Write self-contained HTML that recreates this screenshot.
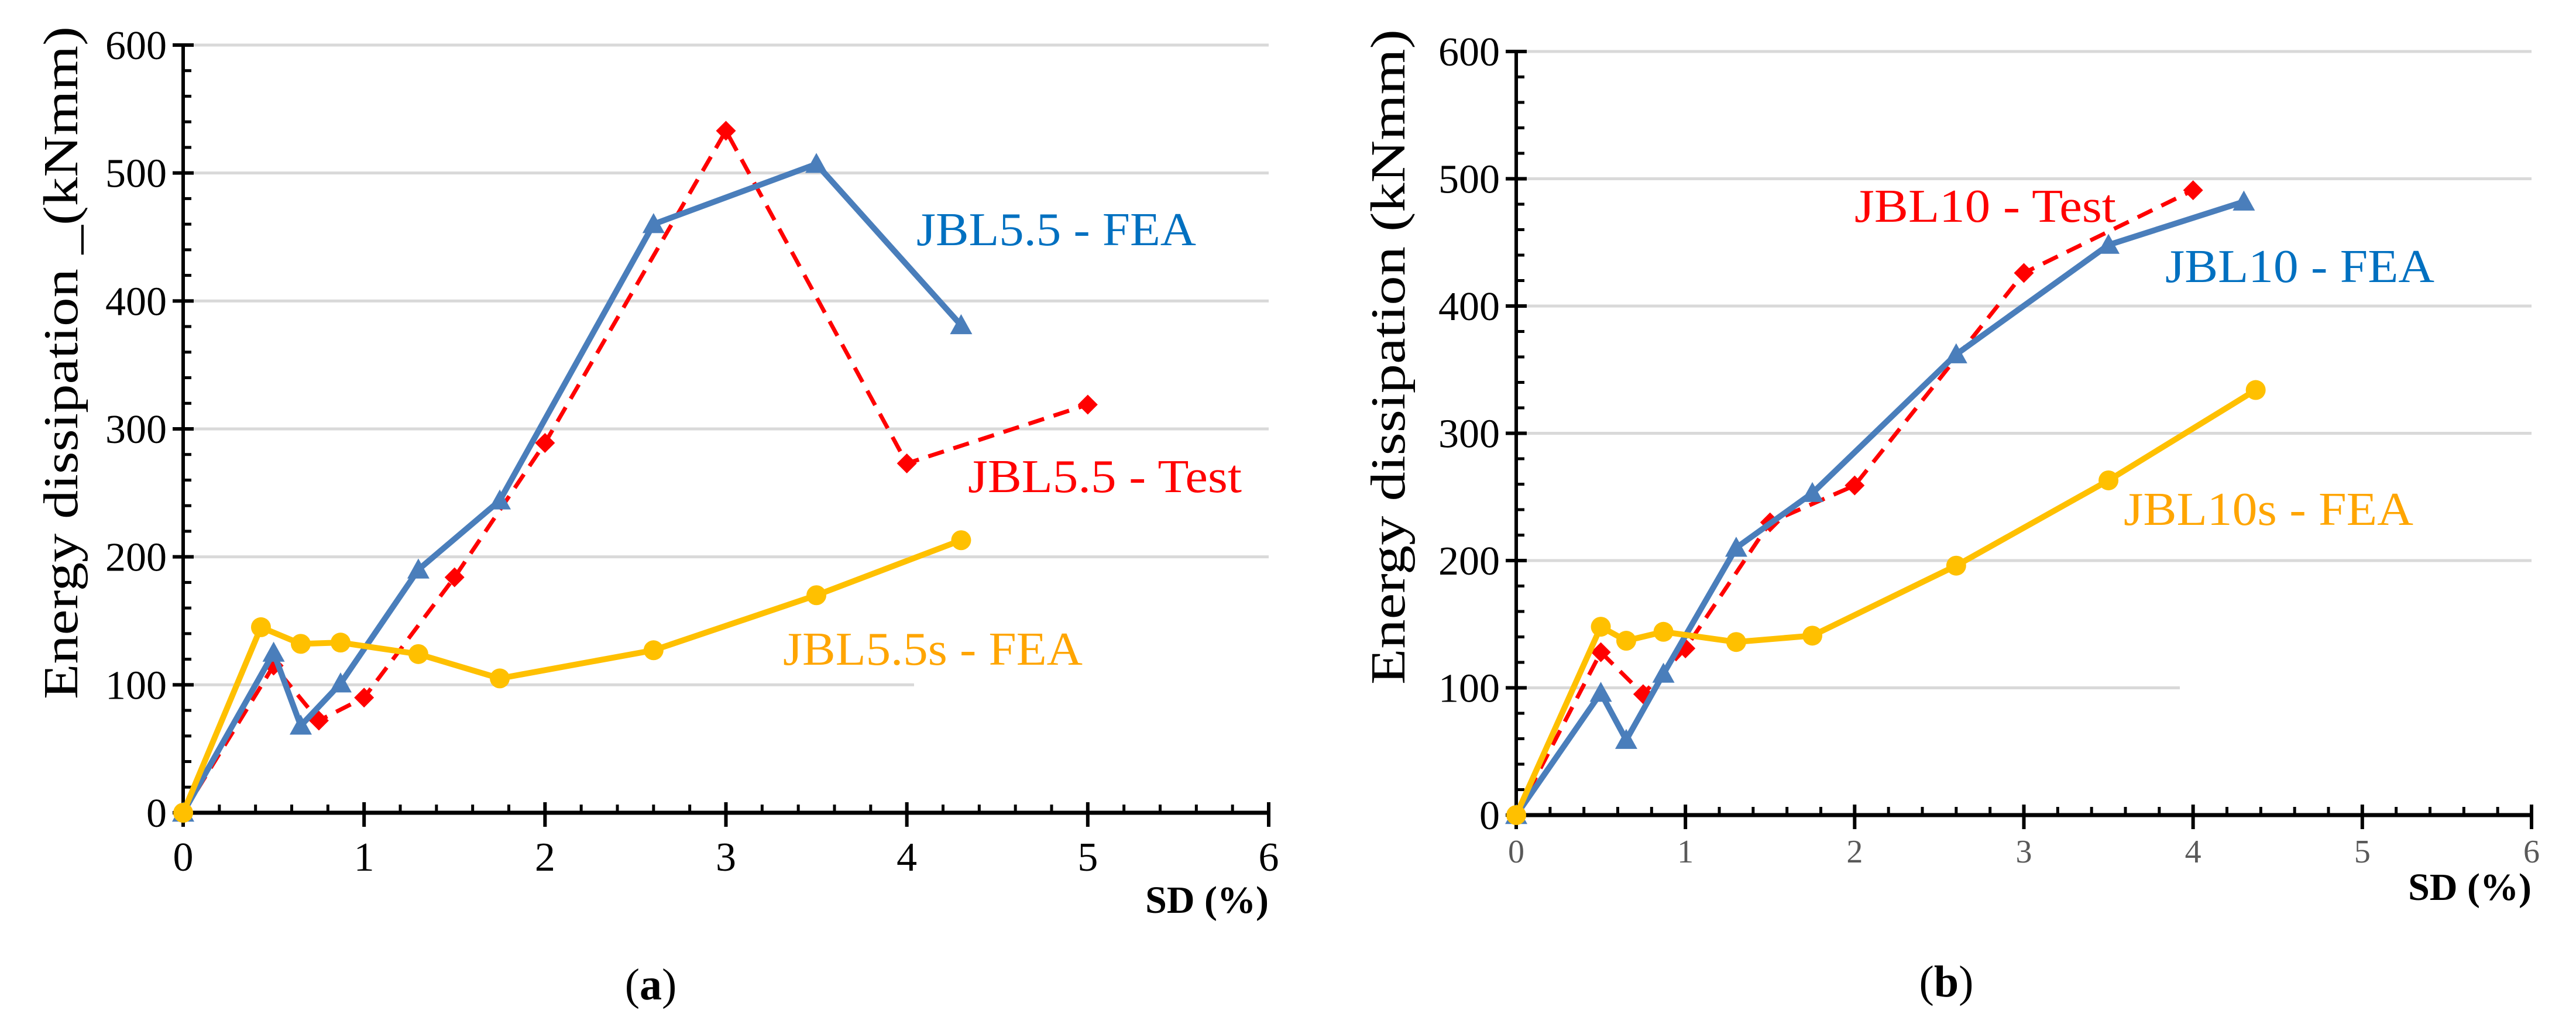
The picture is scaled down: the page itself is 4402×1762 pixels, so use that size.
<!DOCTYPE html>
<html><head><meta charset="utf-8"><style>
html,body{margin:0;padding:0;background:#fff;}
svg{display:block;font-family:"Liberation Serif","Times New Roman",serif;}
</style></head><body>
<svg id="fig" width="4402" height="1762" viewBox="0 0 4402 1762" font-family="Liberation Serif, serif"></svg>
<script>
// ---- Panel (a) data ----
const aFeaX = [0, 0.5, 0.65, 0.87, 1.3, 1.75, 2.6, 3.5, 4.3];
const aFeaY = [0, 125, 68, 101, 190, 244, 460, 507, 381];
const aTestX = [0, 0.5, 0.75, 1, 1.5, 2, 3, 4, 5];
const aTestY = [0, 115, 72, 90, 184, 289, 533, 273, 319];
const aSX = [0, 0.43, 0.65, 0.87, 1.3, 1.75, 2.6, 3.5, 4.3];
const aSY = [0, 145, 132, 133, 124, 105, 127, 170, 213];
// ---- Panel (b) data ----
const bFeaX = [0, 0.5, 0.65, 0.87, 1.3, 1.75, 2.6, 3.5, 4.3];
const bFeaY = [0, 96, 59, 111, 210, 253, 362, 448, 482];
const bTestX = [0, 0.5, 0.75, 1, 1.5, 2, 3, 4];
const bTestY = [0, 128, 95, 131, 230, 259, 426, 491];
const bSX = [0, 0.5, 0.65, 0.87, 1.3, 1.75, 2.6, 3.5, 4.37];
const bSY = [0, 148, 137, 144, 136, 141, 196, 263, 334];
// ---- ticks ----
const xTicks = [0, 1, 2, 3, 4, 5, 6];
const yTicks = [0, 100, 200, 300, 400, 500, 600];

const NS = "http://www.w3.org/2000/svg";
const svg = document.getElementById('fig');
function mk(tag, attrs, parent) {
  const e = document.createElementNS(NS, tag);
  for (const k in attrs) e.setAttribute(k, attrs[k]);
  (parent || svg).appendChild(e);
  return e;
}

function panel(P) {
  const g = mk('g', {});
  
  
  const sx = v => P.x0 + (P.x6 - P.x0) * v / 6;
  const sy = v => P.y0 - (P.y0 - P.y600) * v / 600;
  yTicks.forEach(t => {
    if (t === 0) return;
    const end = (t === 100) ? P.grid100End : P.x6;
    const l = mk('line', {x1: P.x0, x2: end, y1: sy(t), y2: sy(t), stroke: '#d9d9d9', 'stroke-width': 5}, g);
    
    
  });
  for (let v = 20; v < 600; v += 20) {
    if (v % 100 === 0) continue;
    const l = mk('line', {x1: P.x0, x2: P.x0 + 14, y1: sy(v), y2: sy(v), stroke: '#000', 'stroke-width': 5}, g);
    
    
  }
  yTicks.forEach(t => {
    const l = mk('line', {x1: P.x0 - 18, x2: P.x0 + 18, y1: sy(t), y2: sy(t), stroke: '#000', 'stroke-width': 6}, g);
    
    
    const tx = mk('text', {x: P.x0 - 28, y: sy(t) + 24, 'text-anchor': 'end', 'font-size': 70, fill: '#000'}, g);
    tx.textContent = t;
    
    
  });
  for (let i = 1; i < 30; i++) {
    if (i % 5 === 0) continue;
    const v = i * 0.2;
    const l = mk('line', {x1: sx(v), x2: sx(v), y1: P.y0, y2: P.y0 - 14, stroke: '#000', 'stroke-width': 5}, g);
    
    
  }
  xTicks.forEach(t => {
    const l = mk('line', {x1: sx(t), x2: sx(t), y1: P.y0 - 18, y2: P.y0 + 24, stroke: '#000', 'stroke-width': 6}, g);
    
    
    const tx = mk('text', {x: sx(t), y: P.xLabY, 'text-anchor': 'middle', 'font-size': P.xLabSize, fill: P.xLabColor}, g);
    tx.textContent = t;
    
    
  });
  const ya = mk('line', {x1: P.x0, x2: P.x0, y1: P.y600 - 3, y2: P.y0 + 3, stroke: '#000', 'stroke-width': 6}, g);
  
  
  const xa = mk('line', {x1: P.x0 - 3, x2: P.x6 + 3, y1: P.y0, y2: P.y0, stroke: '#000', 'stroke-width': 7}, g);
  
  

  function pts(X, Y) { return X.map((x, i) => sx(x) + ',' + sy(Y[i])).join(' '); }
  const tl = mk('polyline', {points: pts(P.testX, P.testY), fill: 'none', stroke: '#ff0000', 'stroke-width': 7, 'stroke-dasharray': '28,17'}, g);
  
  
  P.testX.forEach((x, i) => {
    const cx = sx(x), cy = sy(P.testY[i]), r = 17;
    const d = mk('polygon', {points: `${cx},${cy - r} ${cx + r},${cy} ${cx},${cy + r} ${cx - r},${cy}`, fill: '#ff0000'}, g);
    
    
  });
  const fl = mk('polyline', {points: pts(P.feaX, P.feaY), fill: 'none', stroke: '#4a7ebb', 'stroke-width': 10, 'stroke-linejoin': 'round'}, g);
  
  
  P.feaX.forEach((x, i) => {
    const cx = sx(x), cy = sy(P.feaY[i]), r = 19;
    const t = mk('polygon', {points: `${cx},${cy - r} ${cx + r},${cy + r * 0.8} ${cx - r},${cy + r * 0.8}`, fill: '#4a7ebb'}, g);
    
    
  });
  const yl = mk('polyline', {points: pts(P.sX, P.sY), fill: 'none', stroke: '#ffc000', 'stroke-width': 10, 'stroke-linejoin': 'round'}, g);
  
  
  P.sX.forEach((x, i) => {
    const c = mk('circle', {cx: sx(x), cy: sy(P.sY[i]), r: 17, fill: '#ffc000'}, g);
    
    
  });
  P.labels.forEach(L => {
    const t = mk('text', {x: L.x, y: L.y, 'font-size': 80, fill: L.c, textLength: L.w, lengthAdjust: 'spacingAndGlyphs'}, g);
    t.textContent = L.t;
    
    
  });
  const yt = mk('text', {x: 0, y: 0, 'font-size': 84, fill: '#000', 'text-anchor': 'middle', textLength: P.ytLen, lengthAdjust: 'spacingAndGlyphs', transform: `translate(${P.ytX},${P.ytY}) rotate(-90)`}, g);
  yt.textContent = P.ytText;
  
  
  const xt = mk('text', {x: P.x6, y: P.sdY, 'font-size': 66, 'font-weight': 'bold', 'text-anchor': 'end', fill: '#000'}, g);
  xt.textContent = 'SD (%)';
  
  
  const cap = mk('text', {x: P.capX, y: P.capY, 'font-size': 76, 'text-anchor': 'middle', fill: '#000'}, g);
  const b = document.createElementNS(NS, 'tspan');
  b.setAttribute('font-weight', 'bold');
  b.textContent = P.cap;
  cap.appendChild(document.createTextNode('('));
  cap.appendChild(b);
  cap.appendChild(document.createTextNode(')'));
  
  
}

panel({name: 'panel-a', x0: 313, x6: 2168, y0: 1389, y600: 77, grid100End: 1562,
  xLabY: 1488, xLabSize: 70, xLabColor: '#000',
  feaX: aFeaX, feaY: aFeaY, testX: aTestX, testY: aTestY, sX: aSX, sY: aSY,
  labels: [
    {t: 'JBL5.5 - FEA', x: 1566, y: 419, c: '#0070c0', w: 478, n: 'fea-series-label'},
    {t: 'JBL5.5 - Test', x: 1654, y: 841, c: '#ff0000', w: 468, n: 'test-series-label'},
    {t: 'JBL5.5s - FEA', x: 1338, y: 1136, c: '#ffa500', w: 512, n: 's-fea-series-label'}],
  ytText: 'Energy dissipation _(kNmm)', ytX: 132, ytY: 620, ytLen: 1150,
  sdY: 1560, capX: 1112, capY: 1708, cap: 'a'});

panel({name: 'panel-b', x0: 2591, x6: 4326, y0: 1393, y600: 88, grid100End: 3725,
  xLabY: 1474, xLabSize: 56, xLabColor: '#595959',
  feaX: bFeaX, feaY: bFeaY, testX: bTestX, testY: bTestY, sX: bSX, sY: bSY,
  labels: [
    {t: 'JBL10 - Test', x: 3169, y: 379, c: '#ff0000', w: 447, n: 'test-series-label'},
    {t: 'JBL10 - FEA', x: 3700, y: 482, c: '#0070c0', w: 460, n: 'fea-series-label'},
    {t: 'JBL10s - FEA', x: 3629, y: 897, c: '#ffa500', w: 495, n: 's-fea-series-label'}],
  ytText: 'Energy dissipation  (kNmm)', ytX: 2400, ytY: 610, ytLen: 1120,
  sdY: 1538, capX: 3326, capY: 1703, cap: 'b'});
</script>
</body></html>
